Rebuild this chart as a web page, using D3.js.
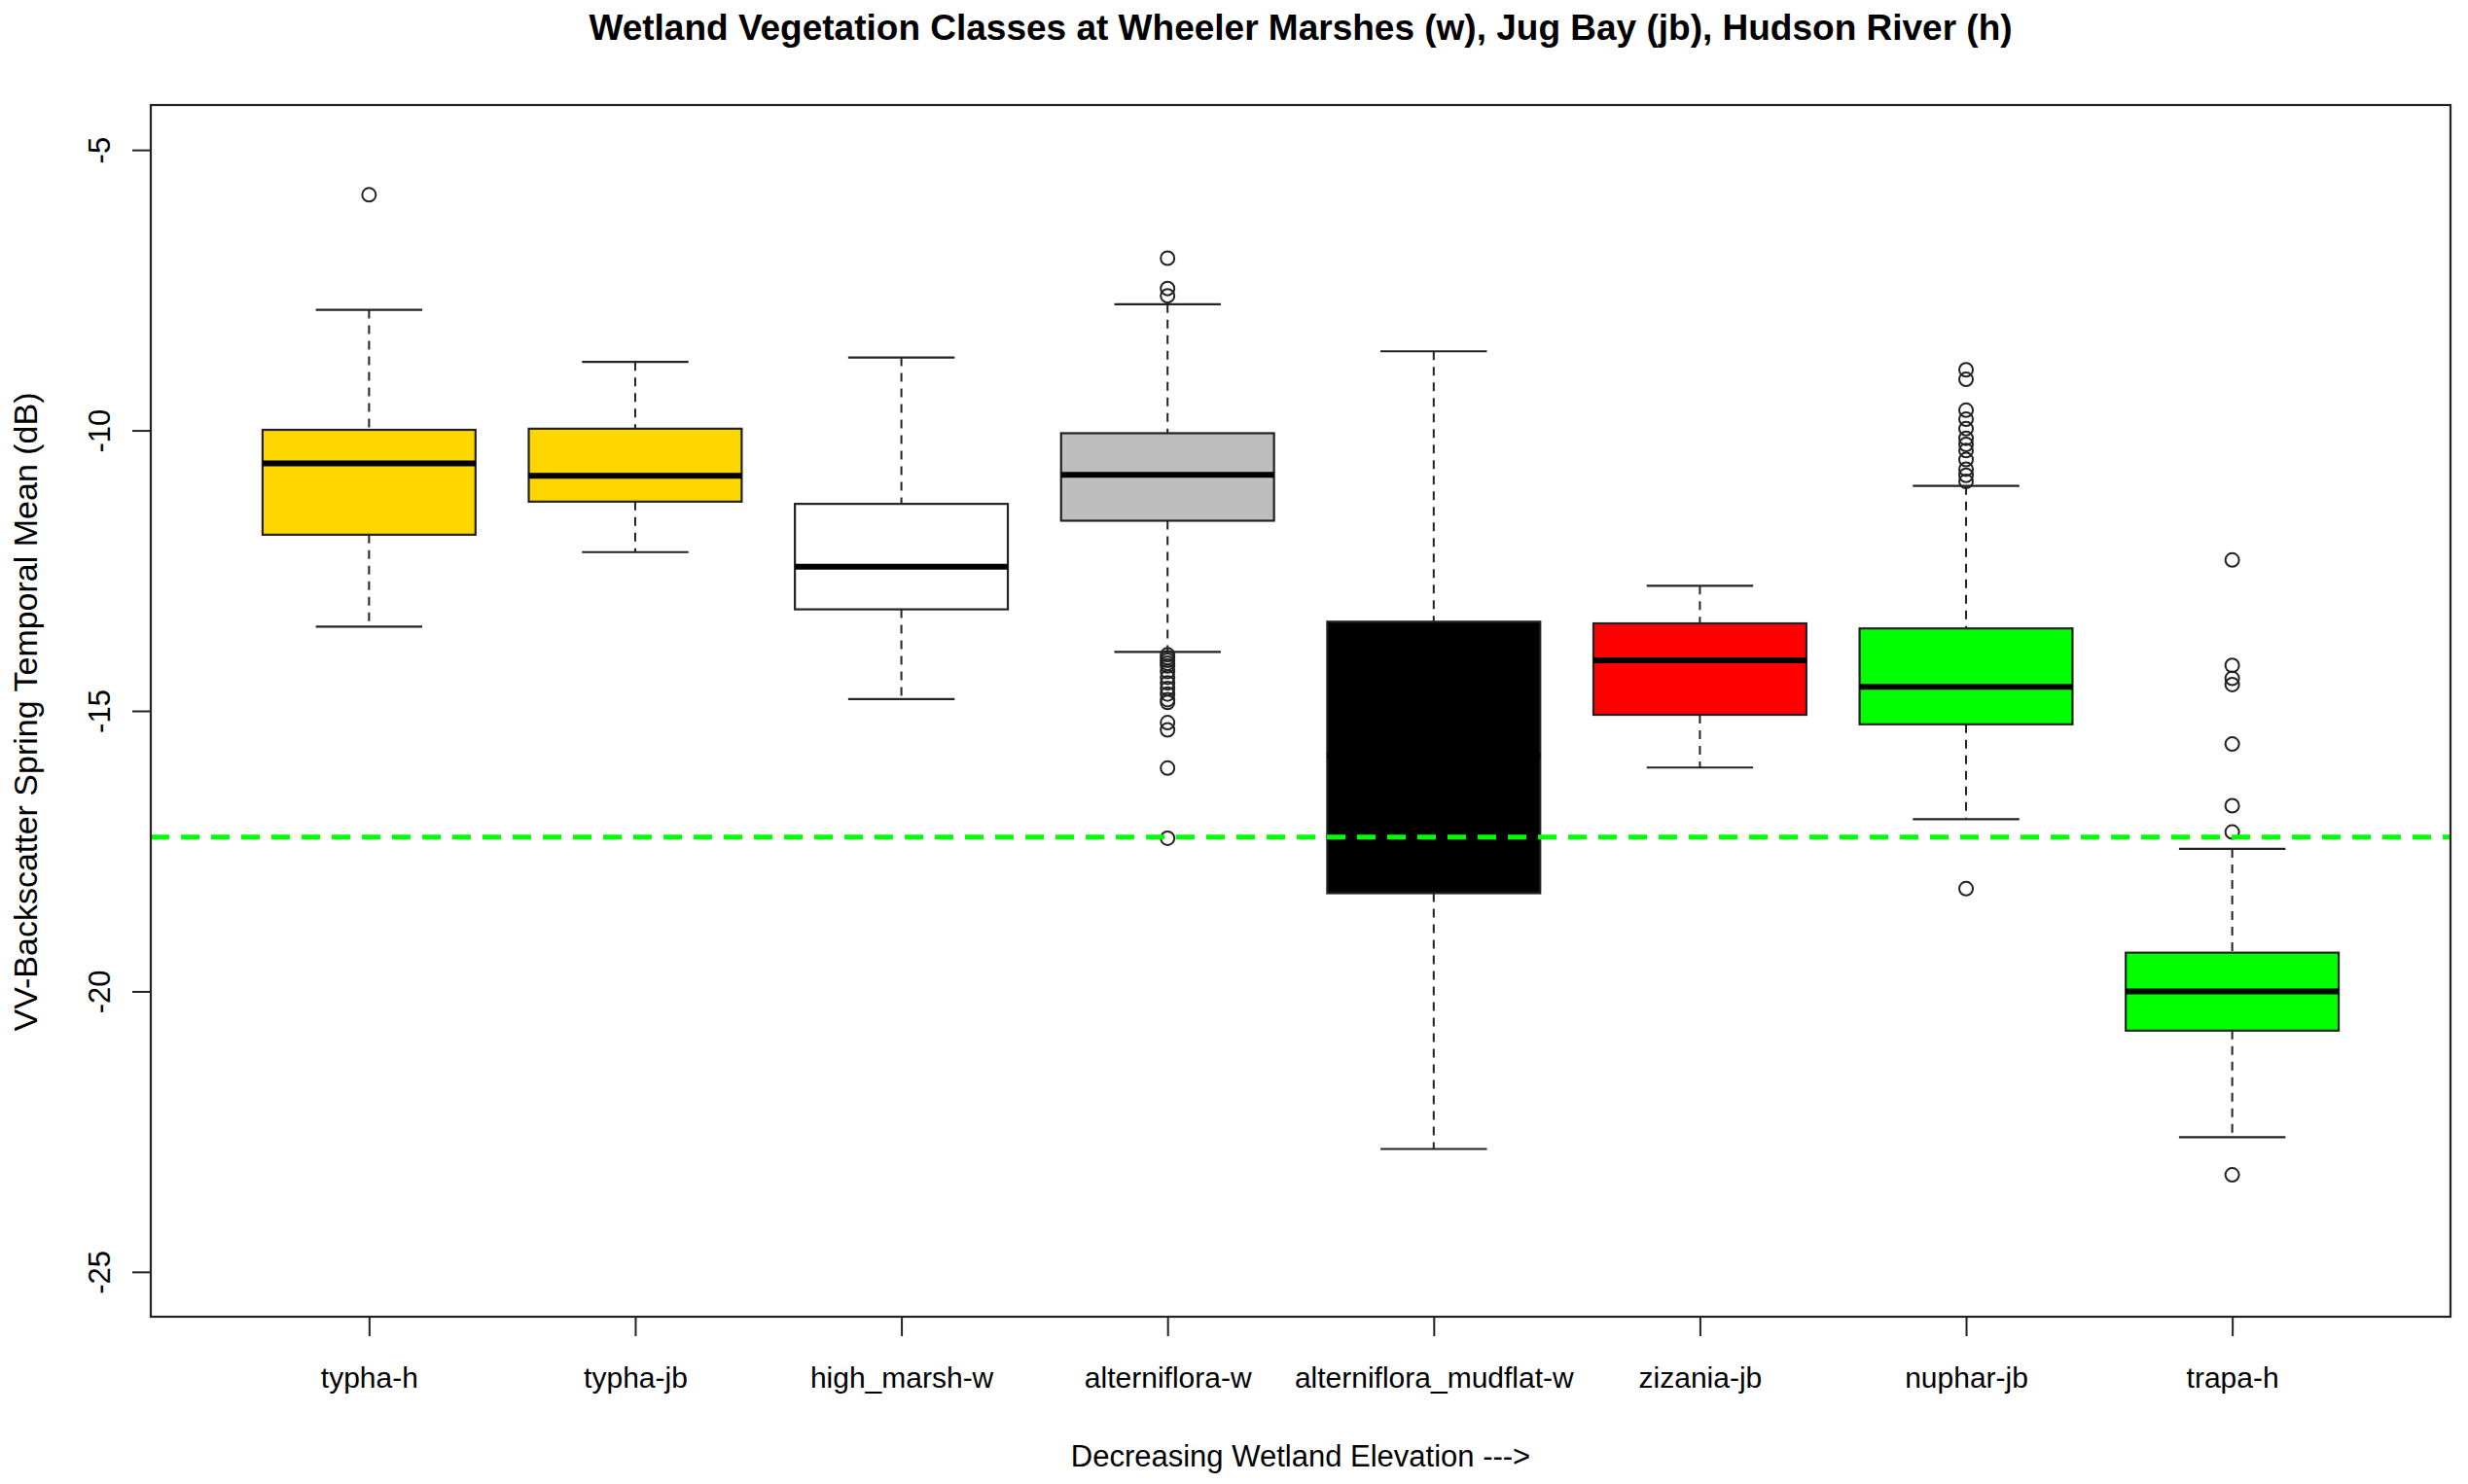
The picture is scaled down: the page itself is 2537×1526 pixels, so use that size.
<!DOCTYPE html>
<html>
<head>
<meta charset="utf-8">
<script src="https://cdn.jsdelivr.net/npm/d3@7"></script>
<style>
  body { margin: 0; background: #fff; }
  text { font-family: "Liberation Sans", Arial, sans-serif; fill: #000; }
</style>
</head>
<body>
<svg id="chart" width="2537" height="1526"></svg>
<script>
// box statistics (dB)
var categories = ["typha-h", "typha-jb", "high_marsh-w", "alterniflora-w",
  "alterniflora_mudflat-w", "zizania-jb", "nuphar-jb", "trapa-h"];
var whiskerLow  = [-13.50, -12.17, -14.79, -13.95, -22.81, -16.01, -16.93, -22.60];
var boxLow      = [-11.86, -11.27, -13.19, -11.61, -18.25, -15.07, -15.24, -20.70];
var medians     = [-10.59, -10.81, -12.43, -10.79, -15.80, -14.10, -14.57, -20.00];
var boxHigh     = [ -9.99,  -9.97, -11.31, -10.05, -13.41, -13.44, -13.53, -19.31];
var whiskerHigh = [ -7.85,  -8.78,  -8.70,  -7.75,  -8.59, -12.77, -10.99, -17.46];
var outliers = [
  [-5.80],
  [],
  [],
  [-6.93, -7.47, -7.60, -14.00, -14.05, -14.10, -14.15, -14.20, -14.30, -14.40,
   -14.50, -14.60, -14.70, -14.80, -14.85, -15.21, -15.34, -16.02, -17.27],
  [],
  [],
  [-8.92, -9.09, -9.64, -9.80, -9.97, -10.14, -10.25, -10.36, -10.52, -10.69,
   -10.80, -10.91, -18.17],
  [-12.31, -14.19, -14.42, -14.53, -15.59, -16.69, -17.16, -23.27]
];
var boxColors = ["#FFD700", "#FFD700", "#FFFFFF", "#BEBEBE", "#000000", "#FF0000", "#00FF00", "#00FF00"];
var yTicks = [-5, -10, -15, -20, -25];
var threshold = -17.25;

var svg = d3.select("#chart");
var plotLeft = 155, plotRight = 2519, plotTop = 108, plotBottom = 1354;

// R style limits: 4% padding around ylim c(-25,-5) and xlim c(0.5,8.5)
var y = d3.scaleLinear().domain([-25.8, -4.2]).range([plotBottom, plotTop]);
var x = d3.scaleLinear().domain([0.18, 8.82]).range([plotLeft, plotRight]);
var halfBox = x(1.4) - x(1), halfStaple = x(1.2) - x(1);

var g = svg.append("g");

categories.forEach(function (c, i) {
  var cx = x(i + 1);
  var bg = g.append("g");
  // whiskers
  bg.append("line")
    .attr("x1", cx).attr("x2", cx)
    .attr("y1", y(whiskerHigh[i])).attr("y2", y(boxHigh[i]))
    .attr("stroke", "#222").attr("stroke-width", 2).attr("stroke-dasharray", "9,7");
  bg.append("line")
    .attr("x1", cx).attr("x2", cx)
    .attr("y1", y(boxLow[i])).attr("y2", y(whiskerLow[i]))
    .attr("stroke", "#222").attr("stroke-width", 2).attr("stroke-dasharray", "9,7");
  // staples
  [whiskerHigh[i], whiskerLow[i]].forEach(function (v) {
    bg.append("line")
      .attr("x1", cx - halfStaple).attr("x2", cx + halfStaple)
      .attr("y1", y(v)).attr("y2", y(v))
      .attr("stroke", "#222").attr("stroke-width", 2.2);
  });
  // box
  bg.append("rect")
    .attr("x", cx - halfBox).attr("width", 2 * halfBox)
    .attr("y", y(boxHigh[i])).attr("height", y(boxLow[i]) - y(boxHigh[i]))
    .attr("fill", boxColors[i]).attr("stroke", "#222").attr("stroke-width", 2.2);
  // median
  bg.append("line")
    .attr("x1", cx - halfBox).attr("x2", cx + halfBox)
    .attr("y1", y(medians[i])).attr("y2", y(medians[i]))
    .attr("stroke", "#000").attr("stroke-width", 6);
  // outliers
  bg.selectAll("circle").data(outliers[i]).enter().append("circle")
    .attr("cx", cx).attr("cy", function (d) { return y(d); })
    .attr("r", 7).attr("fill", "none").attr("stroke", "#222").attr("stroke-width", 2);
});

// threshold line
svg.append("line")
  .attr("x1", plotLeft).attr("x2", plotRight)
  .attr("y1", y(threshold)).attr("y2", y(threshold))
  .attr("stroke", "#00FF00").attr("stroke-width", 5).attr("stroke-dasharray", "19,12");

// plot frame
svg.append("rect")
  .attr("x", plotLeft).attr("y", plotTop).attr("width", plotRight - plotLeft).attr("height", plotBottom - plotTop)
  .attr("fill", "none").attr("stroke", "#222").attr("stroke-width", 2.2);

// axes
var yAxis = svg.append("g").attr("transform", "translate(" + plotLeft + ",0)")
  .call(d3.axisLeft(y).tickValues(yTicks).tickSize(19).tickSizeOuter(0)
    .tickFormat(function (d) { return String(d); }));
yAxis.select(".domain").remove();
yAxis.selectAll(".tick line").attr("stroke", "#222").attr("stroke-width", 2);
yAxis.selectAll(".tick text")
  .attr("x", null).attr("dy", null)
  .attr("transform", "translate(-42,0) rotate(-90)")
  .attr("text-anchor", "middle")
  .style("font-size", "31px");

var xAxis = svg.append("g").attr("transform", "translate(0," + plotBottom + ")")
  .call(d3.axisBottom(x).tickValues(d3.range(1, 9)).tickSize(20).tickSizeOuter(0)
    .tickFormat(function (d) { return categories[d - 1]; }));
xAxis.select(".domain").remove();
xAxis.selectAll(".tick line").attr("stroke", "#222").attr("stroke-width", 2);
xAxis.selectAll(".tick text").attr("y", 73).attr("dy", null).style("font-size", "30px");

// titles
svg.append("text")
  .attr("x", (plotLeft + plotRight) / 2).attr("y", 41)
  .attr("text-anchor", "middle").style("font-size", "37px").style("font-weight", "bold")
  .text("Wetland Vegetation Classes at Wheeler Marshes (w), Jug Bay (jb), Hudson River (h)");

svg.append("text")
  .attr("x", (plotLeft + plotRight) / 2).attr("y", 1508)
  .attr("text-anchor", "middle").style("font-size", "31px")
  .text("Decreasing Wetland Elevation --->");

svg.append("text")
  .attr("transform", "translate(38," + ((plotTop + plotBottom) / 2 + 1) + ") rotate(-90)")
  .attr("text-anchor", "middle").style("font-size", "34px")
  .text("VV-Backscatter Spring Temporal Mean (dB)");
</script>
</body>
</html>
